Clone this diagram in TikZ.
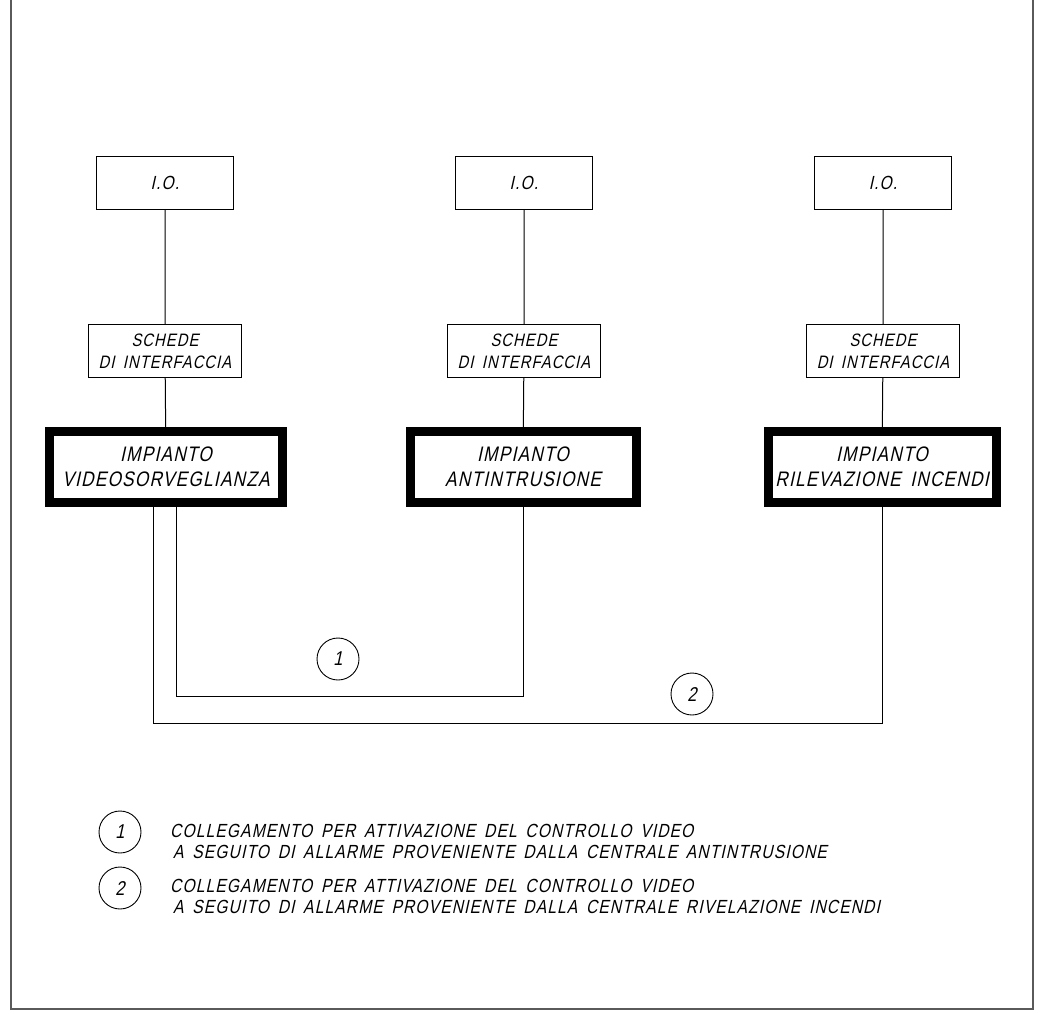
\documentclass[tikz,border=0pt]{standalone}
\usepackage{fontspec}
\newfontfamily\cadfont{Liberation Sans}[FakeSlant=0.22, FakeStretch=0.82, LetterSpace=6, WordSpace=1.6]
\usepackage{xcolor}
\definecolor{framegray}{RGB}{90, 90, 90}
\usepackage{tikz}
\usetikzlibrary{positioning, calc}

\begin{document}
\begin{tikzpicture}[x=1pt, y=-1pt,
    iobox/.style={draw, line width=1pt, minimum width=137pt, minimum height=53pt, inner sep=0pt, font=\cadfont\fontsize{19}{20}\selectfont},
    cardbox/.style={draw, line width=1pt, minimum width=153pt, minimum height=53pt, inner sep=0pt, align=center, font=\cadfont\fontsize{18}{22}\selectfont},
    plantbox/.style={draw, line width=9pt, minimum height=71pt, inner sep=0pt, align=center, font=\cadfont\fontsize{21}{25}\selectfont},
    refmark/.style={draw, circle, line width=0.9pt, minimum size=42pt, inner sep=0pt, font=\cadfont\fontsize{20}{20}\selectfont},
    legendtext/.style={anchor=base west, inner sep=0pt, font=\cadfont\fontsize{19}{20}\selectfont},
    link/.style={line width=1pt}]
    \useasboundingbox (0,0) rectangle (1048,1013);
    % cornice
    \draw[framegray, line width=2pt] (11,0) -- (11,1009) -- (1033,1009) -- (1033,0);

    % colonne
    \node[iobox] (io1) at (165,183) {I.O.};
    \node[iobox] (io2) at (524,183) {I.O.};
    \node[iobox] (io3) at (883,183) {I.O.};
    \node[cardbox] (sc1) at (165,351) {SCHEDE\\DI INTERFACCIA};
    \node[cardbox] (sc2) at (524,351) {SCHEDE\\DI INTERFACCIA};
    \node[cardbox] (sc3) at (883,351) {SCHEDE\\DI INTERFACCIA};
    \node[plantbox, minimum width=233pt] (vs) at (166,467) {IMPIANTO\\VIDEOSORVEGLIANZA};
    \node[plantbox, minimum width=226pt] (ai) at (523,467) {IMPIANTO\\ANTINTRUSIONE};
    \node[plantbox, minimum width=228pt] (ri) at (882,467) {IMPIANTO\\RILEVAZIONE INCENDI};

    \draw[link] (io1) -- (sc1) -- (vs);
    \draw[link] (io2) -- (sc2) -- (ai);
    \draw[link] (io3) -- (sc3) -- (ri);

    % collegamenti
    \coordinate (k1) at (176,696);
    \coordinate (k2) at (153,723);
    \draw[link] (vs.south -| k1) -- (k1) -| (ai.south);
    \draw[link] (vs.south -| k2) -- (k2) -| (ri.south);
    \node[refmark] (m1) at (338,659) {1};
    \node[refmark] (m2) at (692,694) {2};

    % legenda
    \node[refmark] (l1) at (120,832) {1};
    \node[refmark] (l2) at (120,888) {2};
    \node[legendtext] (t1a) at (170,837) {COLLEGAMENTO PER ATTIVAZIONE DEL CONTROLLO VIDEO};
    \node[legendtext] (t1b) at (173,858) {A SEGUITO DI ALLARME PROVENIENTE DALLA CENTRALE ANTINTRUSIONE};
    \node[legendtext] (t2a) at (170,892) {COLLEGAMENTO PER ATTIVAZIONE DEL CONTROLLO VIDEO};
    \node[legendtext] (t2b) at (173,913) {A SEGUITO DI ALLARME PROVENIENTE DALLA CENTRALE RIVELAZIONE INCENDI};
\end{tikzpicture}
\end{document}
